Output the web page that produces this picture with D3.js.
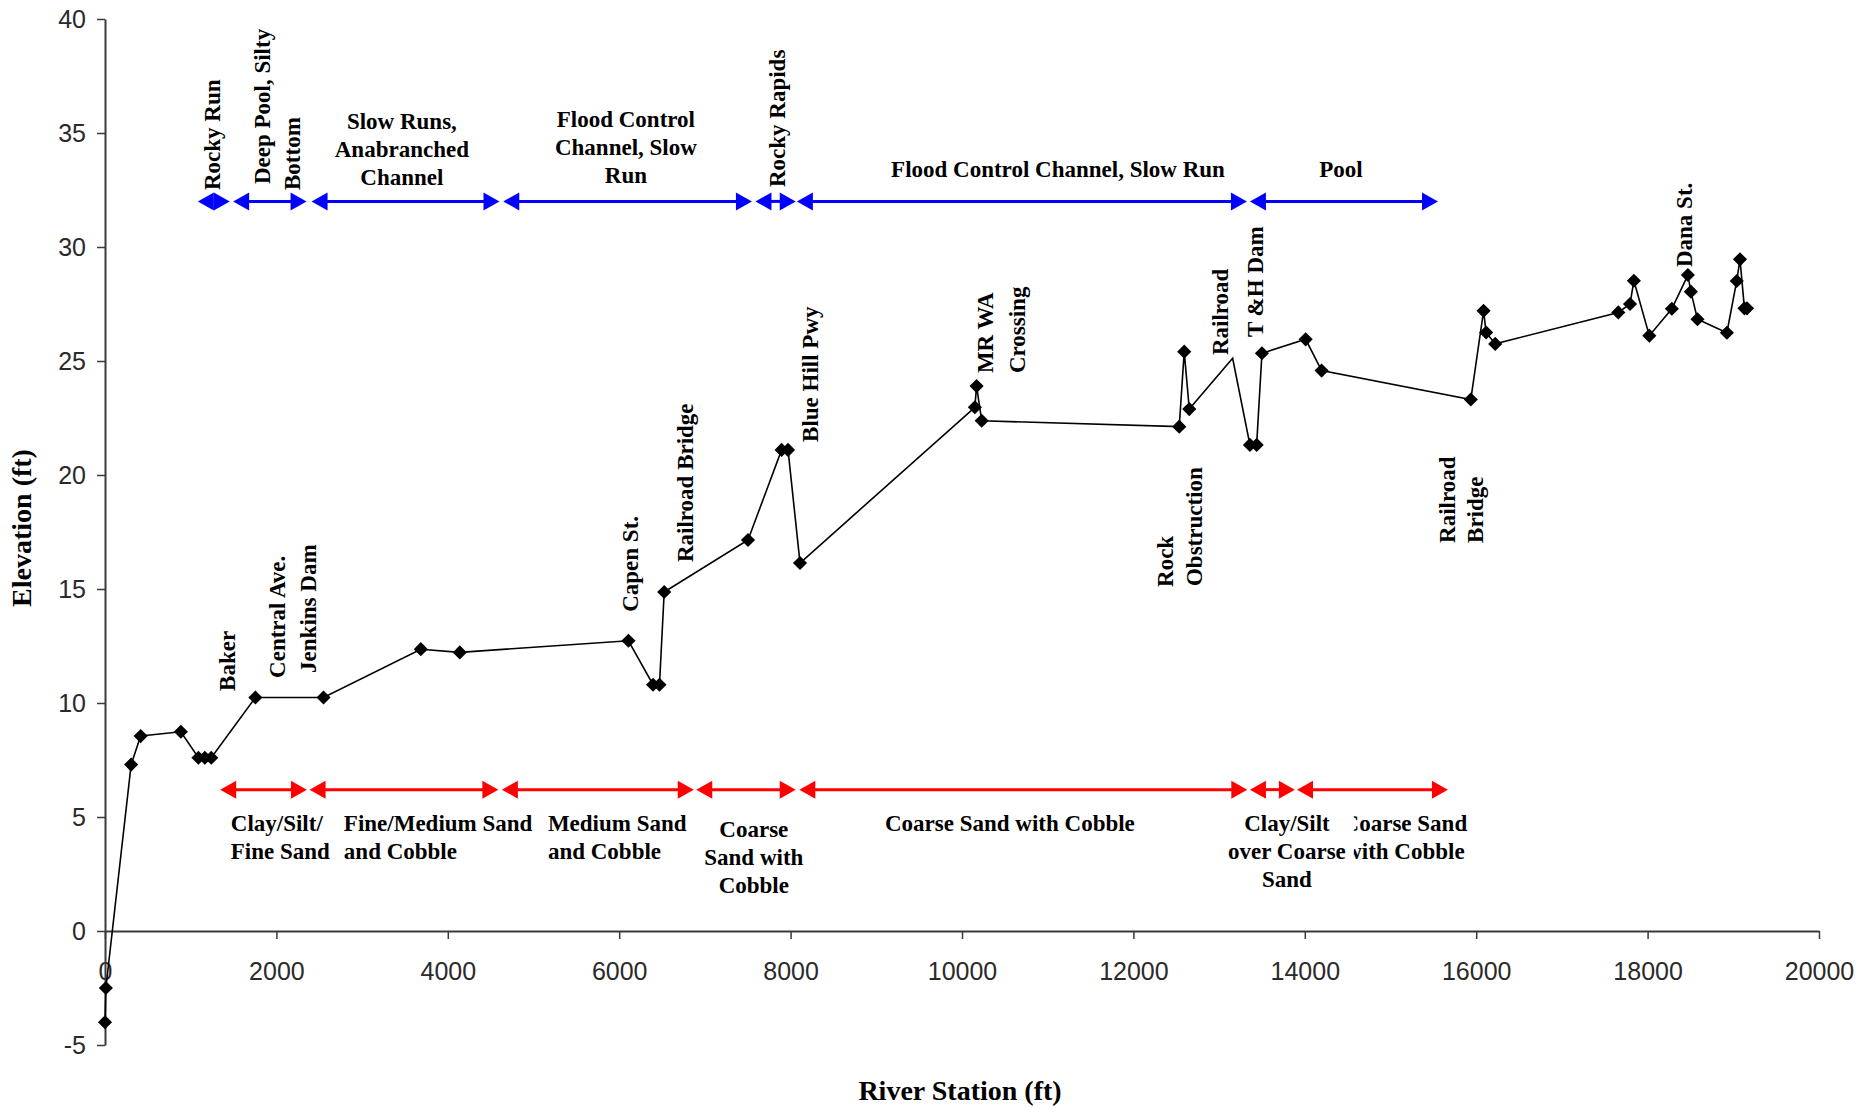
<!DOCTYPE html>
<html>
<head>
<meta charset="utf-8">
<script src="https://cdn.jsdelivr.net/npm/d3@7"></script>
<style>
  html, body { margin: 0; padding: 0; background: #fff; }
  svg { display: block; }
</style>
</head>
<body>
<svg id="chart" width="1874" height="1108"></svg>
<script>
// Longitudinal bed profile: river station (ft) and bed elevation (ft)
const station = [0, 10, 305, 416, 885, 1090, 1165, 1240, 1755, 2550, 3685, 4140,
  6108, 6395, 6470, 6525, 7503, 7895, 7970, 8110, 10150, 10170, 10230,
  12535, 12593, 12652, 13158, 13360, 13438, 13500, 14010, 14196,
  15937, 16086, 16116, 16222, 17658, 17795, 17840, 18020, 18283,
  18470, 18505, 18582, 18925, 19040, 19078, 19130, 19160];
const elevation = [-4.0, -2.5, 7.3, 8.55, 8.74, 7.6, 7.6, 7.6, 10.24, 10.24, 12.36, 12.22,
  12.73, 10.8, 10.8, 14.87, 17.15, 21.1, 21.1, 16.14, 22.97, 23.9, 22.38,
  22.12, 25.41, 22.89, 25.12, 21.32, 21.32, 25.34, 25.95, 24.58,
  23.31, 27.2, 26.25, 25.75, 27.13, 27.5, 28.52, 26.11, 27.29,
  28.77, 28.04, 26.83, 26.24, 28.51, 29.46, 27.31, 27.31];
// vertices drawn without a marker
const unmarkedStations = [13158];

const xTicks = [0, 2000, 4000, 6000, 8000, 10000, 12000, 14000, 16000, 18000, 20000];
const yTicks = [-5, 0, 5, 10, 15, 20, 25, 30, 35, 40];

// Habitat reaches (blue) and substrate reaches (red), stations in ft
const habitatStart = [1083, 1495, 2410, 4647, 7590, 8073, 13360];
const habitatEnd   = [1456, 2352, 4603, 7549, 8060, 13325, 15554];
const habitatLevel = 32;
const substrateStart = [1344, 2387, 4631, 6899, 8102, 13360, 13909];
const substrateEnd   = [2356, 4590, 6870, 8060, 13329, 13884, 15670];
const substrateLevel = 6.2;

// Habitat descriptions
const habitatLabels = [
  { lines: ["Rocky Run"], at: [1340, 32.5], rotate: true },
  { lines: ["Deep Pool, Silty"], at: [1923, 32.76], rotate: true },
  { lines: ["Bottom"], at: [2273, 32.5], rotate: true },
  { lines: ["Slow Runs,", "Anabranched", "Channel"], at: [3464, 35.18], anchor: "middle" },
  { lines: ["Flood Control", "Channel, Slow", "Run"], at: [6078, 35.28], anchor: "middle" },
  { lines: ["Rocky Rapids"], at: [7933, 32.63], rotate: true },
  { lines: ["Flood Control Channel, Slow Run"], at: [11120, 33.07], anchor: "middle" },
  { lines: ["Pool"], at: [14421, 33.07], anchor: "middle" }
];

// Substrate descriptions
const substrateLabels = [
  { lines: ["Clay/Silt/", "Fine Sand"], at: [1468, 4.39], anchor: "start" },
  { lines: ["Fine/Medium Sand", "and Cobble"], at: [2787, 4.39], anchor: "start" },
  { lines: ["Medium Sand", "and Cobble"], at: [5168, 4.39], anchor: "start" },
  { lines: ["Coarse", "Sand with", "Cobble"], at: [7571, 4.12], anchor: "middle" },
  { lines: ["Coarse Sand with Cobble"], at: [10559, 4.39], anchor: "middle" },
  { lines: ["Coarse Sand", "with Cobble"], at: [15168, 4.39], anchor: "middle" },
  { lines: ["Clay/Silt", "over Coarse", "Sand"], at: [13792, 4.39], anchor: "middle", opaque: true }
];

// Landmarks along the river
const landmarkLabels = [
  { text: "Baker", at: [1515, 10.53] },
  { text: "Central Ave.", at: [2098, 11.1] },
  { text: "Jenkins Dam", at: [2460, 11.32] },
  { text: "Capen St.", at: [6218, 14.0] },
  { text: "Railroad Bridge", at: [6860, 16.18] },
  { text: "Blue Hill Pwy", at: [8318, 21.45] },
  { text: "MR WA", at: [10361, 24.47] },
  { text: "Crossing", at: [10734, 24.47] },
  { text: "Rock", at: [12461, 15.09] },
  { text: "Obstruction", at: [12800, 15.13] },
  { text: "Railroad", at: [13103, 25.26] },
  { text: "T &H Dam", at: [13512, 26.05] },
  { text: "Railroad", at: [15752, 17.02] },
  { text: "Bridge", at: [16079, 17.02] },
  { text: "Dana St.", at: [18518, 29.12] }
];

const serif = "'Liberation Serif', 'Times New Roman', serif";
const sans = "'Liberation Sans', Arial, sans-serif";
const labelSize = 23;
const lineStep = 28;

const svg = d3.select("#chart");
const x = d3.scaleLinear().domain([0, 20000]).range([105, 1819]);
const y = d3.scaleLinear().domain([-5, 40]).range([1045, 19]);

// Axes
const xAxis = svg.append("g")
  .attr("transform", `translate(0,${y(0)})`)
  .call(d3.axisBottom(x).tickValues(xTicks).tickSize(8).tickSizeOuter(0)
    .tickPadding(23).tickFormat(d => String(d)));
const yAxis = svg.append("g")
  .attr("transform", `translate(${x(0)},0)`)
  .call(d3.axisLeft(y).tickValues(yTicks).tickSize(8).tickSizeOuter(0)
    .tickPadding(11).tickFormat(d => String(d)));

[xAxis, yAxis].forEach(g => {
  g.select(".domain").attr("stroke", "#3a3a3a").attr("stroke-width", 2);
  g.selectAll(".tick line").attr("stroke", "#3a3a3a").attr("stroke-width", 1.5);
  g.selectAll(".tick text").attr("font-family", sans).attr("font-size", 25)
    .attr("fill", "#2a2a2a");
});

svg.append("text")
  .attr("transform", "translate(31,528) rotate(-90)")
  .attr("text-anchor", "middle")
  .attr("font-family", serif).attr("font-weight", "bold").attr("font-size", 28)
  .text("Elevation (ft)");
svg.append("text")
  .attr("x", 960).attr("y", 1100)
  .attr("text-anchor", "middle")
  .attr("font-family", serif).attr("font-weight", "bold").attr("font-size", 28)
  .text("River Station (ft)");

// Profile line and markers
const profile = station.map((s, i) => ({ s, e: elevation[i] }));
svg.append("path")
  .datum(profile)
  .attr("fill", "none").attr("stroke", "#000").attr("stroke-width", 1.6)
  .attr("stroke-linejoin", "miter")
  .attr("d", d3.line().x(d => x(d.s)).y(d => y(d.e)));

const diamond = d3.symbol().type(d3.symbolSquare).size(100);
svg.append("g").selectAll("path")
  .data(profile.filter(d => !unmarkedStations.includes(d.s)))
  .join("path")
  .attr("d", diamond)
  .attr("transform", d => `translate(${x(d.s)},${y(d.e)}) rotate(45)`)
  .attr("fill", "#000");

// Double-headed reach arrows
function drawReaches(starts, ends, level, color) {
  const g = svg.append("g");
  const head = 16, half = 9;
  const yy = y(level);
  starts.forEach((s, i) => {
    const x0 = x(s), x1 = x(ends[i]);
    if (x1 - x0 > 2 * head) {
      g.append("line")
        .attr("x1", x0 + head - 1).attr("x2", x1 - head + 1)
        .attr("y1", yy).attr("y2", yy)
        .attr("stroke", color).attr("stroke-width", 3);
    }
    g.append("path")
      .attr("d", `M${x0},${yy}L${x0 + head},${yy - half}L${x0 + head},${yy + half}Z`)
      .attr("fill", color);
    g.append("path")
      .attr("d", `M${x1},${yy}L${x1 - head},${yy - half}L${x1 - head},${yy + half}Z`)
      .attr("fill", color);
  });
}
drawReaches(habitatStart, habitatEnd, habitatLevel, "#0000ff");
drawReaches(substrateStart, substrateEnd, substrateLevel, "#ff0000");

// Text annotations
function drawLabels(list) {
  list.forEach(lab => {
    const px = x(lab.at[0]), py = y(lab.at[1]);
    const g = svg.append("g");
    const t = g.append("text")
      .attr("font-family", serif).attr("font-weight", "bold")
      .attr("font-size", labelSize).attr("fill", "#000")
      .attr("text-anchor", lab.rotate ? "start" : lab.anchor);
    if (lab.rotate) {
      t.attr("transform", `translate(${px},${py}) rotate(-90)`).text(lab.lines[0]);
    } else {
      lab.lines.forEach((line, k) => {
        t.append("tspan").attr("x", px).attr("y", py + k * lineStep).text(line);
      });
    }
    if (lab.opaque) {
      const b = t.node().getBBox();
      g.insert("rect", "text")
        .attr("x", b.x - 8).attr("y", b.y - 2)
        .attr("width", b.width + 16).attr("height", b.height + 4)
        .attr("fill", "#fff");
    }
  });
}
drawLabels(habitatLabels);
drawLabels(substrateLabels);

svg.append("g").selectAll("text")
  .data(landmarkLabels)
  .join("text")
  .attr("transform", d => `translate(${x(d.at[0])},${y(d.at[1])}) rotate(-90)`)
  .attr("font-family", serif).attr("font-weight", "bold")
  .attr("font-size", labelSize).attr("fill", "#000")
  .text(d => d.text);
</script>
</body>
</html>
